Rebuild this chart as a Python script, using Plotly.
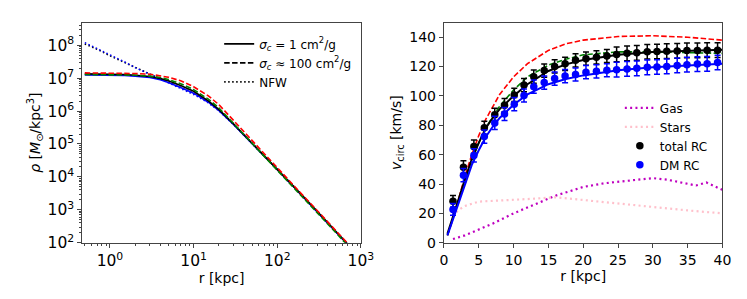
import plotly.graph_objects as go

# ---------------- left panel: density profiles ----------------
r_rho = [0.5, 0.7, 1, 1.5, 2, 3, 4, 5, 7, 10, 15, 20, 30, 50, 70, 100, 150, 200, 300, 500, 700]
rho_black = [1.35e7, 1.35e7, 1.32e7, 1.29e7, 1.23e7, 1.12e7, 9.8e6, 8.3e6, 6.0e6, 4.0e6, 2.04e6,
             1.12e6, 4.07e5, 1.07e5, 4.43e4, 1.72e4, 5.8e3, 2.7e3, 900, 224, 89]
rho_blue = [1.26e7, 1.26e7, 1.24e7, 1.2e7, 1.15e7, 1.05e7, 8.9e6, 7.4e6, 5.2e6, 3.5e6, 1.86e6,
            1.05e6, 3.9e5, 1.05e5, 4.3e4, 1.68e4, 5.7e3, 2.63e3, 880, 219, 87]
rho_red = [1.45e7, 1.45e7, 1.43e7, 1.41e7, 1.38e7, 1.32e7, 1.2e7, 1.07e7, 8.3e6, 5.5e6, 2.9e6,
           1.58e6, 5.2e5, 1.26e5, 5.0e4, 1.86e4, 6.2e3, 2.85e3, 955, 237, 94]
rho_green = [1.29e7, 1.29e7, 1.27e7, 1.26e7, 1.23e7, 1.15e7, 1.05e7, 9.1e6, 6.8e6, 4.5e6, 2.3e6,
             1.26e6, 4.2e5, 9.8e4, 4.0e4, 1.55e4, 5.3e3, 2.45e3, 822, 204, 81]
rho_nfw_blue = [1.2e8, 8.1e7, 5.1e7, 3.1e7, 2.1e7, 1.32e7, 9.3e6, 7.2e6, 4.9e6, 3.2e6, 1.78e6,
                1.02e6, 3.9e5, 1.05e5, 4.3e4, 1.68e4, 5.7e3, 2.63e3, 880, 219, 87]
rho_nfw_black = [1.1e8, 7.6e7, 4.8e7, 2.95e7, 2.1e7, 1.32e7, 9.5e6, 7.6e6, 5.2e6, 3.5e6, 1.95e6,
                 1.1e6, 4.07e5, 1.07e5, 4.43e4, 1.72e4, 5.8e3, 2.7e3, 900, 224, 89]

# ---------------- right panel: rotation curves ----------------
r_data = [1.3, 2.8, 4.3, 5.8, 7.3, 8.7, 10.1, 11.5, 12.9, 14.4, 15.9, 17.4, 18.9, 20.4, 21.9,
          23.4, 24.8, 26.3, 27.7, 29.2, 30.6, 32.0, 33.5, 34.9, 36.4, 37.8, 39.3]
v_total = [28.2, 51.4, 65.5, 78.3, 87.1, 93.7, 100.7, 107.4, 113.1, 117.3, 120.1, 121.9, 124.3,
           125.4, 126.3, 127.2, 128.3, 129.0, 129.4, 130.1, 130.3, 130.5, 130.7, 131.0, 131.0, 131.2, 131.2]
err_total = [4, 4.5, 4.5, 4.5, 4.5, 4.5, 4.5, 4.5, 4.5, 4.5, 4.5, 4.5, 4.5, 4.5, 4.5,
             4.5, 5, 5, 5, 5, 5, 5, 5, 5, 5, 5, 5]
v_dm = [22.7, 46.0, 59.5, 72.3, 81.6, 87.7, 94.4, 100.3, 106.3, 109.1, 111.8, 113.5, 114.6,
        116.2, 116.8, 117.5, 117.9, 118.4, 118.8, 119.5, 119.7, 120.1, 120.8, 121.3, 121.7, 121.9, 122.8]
err_dm = [4, 4.5, 4.5, 4.5, 4.5, 4.5, 4.5, 4.5, 4.5, 4.5, 4.5, 4.5, 4.5, 4.5, 4.5,
          4.5, 5, 5, 5, 5, 5, 5, 5, 5, 5, 5, 5]

r_fit = [0.5, 1, 2, 3, 4, 5, 6, 7, 8, 10, 12, 15, 17.5, 20, 25, 30, 35, 40]
v_fit_black = [6, 13, 28, 43, 57, 68, 78, 85, 91, 100, 108, 117, 121.5, 124.5, 128, 130, 131, 131.5]
v_fit_blue = [5, 12, 26, 40, 53, 63, 72, 79, 85, 94, 101, 108, 111.5, 114, 117.5, 119.5, 121, 122]
v_fit_red = [5, 12, 28, 45, 60, 73, 84, 93, 101, 113, 122, 131, 135.5, 138, 140.5, 141, 140, 138]
v_fit_green = [5, 12, 27, 42, 56, 68, 78, 86, 93, 104, 113, 121, 125, 128, 130, 130, 129.5, 129]

r_gas = [1.3, 3, 5, 7, 10, 13, 16, 20, 23, 26, 30, 32, 34, 36.2, 37.7, 40]
v_gas = [2.5, 5, 9, 13, 20, 26, 32, 38, 40.5, 42, 44, 43, 41, 39, 41, 36]
r_stars = [1.3, 2, 3, 5, 7, 10, 13, 16, 18, 20, 25, 30, 35, 40]
v_stars = [18, 22, 25, 28, 28.5, 29, 30, 31, 30, 29, 27, 24.5, 22, 20]

W, H = 747, 299
FONT = "DejaVu Sans"
SPINE = "#444444"

fig = go.Figure()

def add(x, y, color, dash, width=1.6, xa="x", ya="y", name=None, show=False, legend="legend"):
    fig.add_trace(go.Scatter(x=x, y=y, mode="lines", line=dict(color=color, dash=dash, width=width),
                             xaxis=xa, yaxis=ya, name=name, showlegend=show, legend=legend,
                             hoverinfo="skip"))

DASH = "5.5px,2.4px"
DOT = "1.5px,2.5px"

# left panel curves
add(r_rho, rho_nfw_black, "black", DOT)
add(r_rho, rho_nfw_blue, "blue", DOT)
add(r_rho, rho_blue, "blue", "solid")
add(r_rho, rho_black, "black", "solid")
add(r_rho, rho_green, "green", DASH)
add(r_rho, rho_red, "red", DASH)

# legend-only entries for left panel
add([None], [None], "black", "solid", name="<i>σ</i><sub><i>c</i></sub> = 1 cm<sup>2</sup>/g", show=True)
add([None], [None], "black", DASH, name="<i>σ</i><sub><i>c</i></sub> ≈ 100 cm<sup>2</sup>/g", show=True)
add([None], [None], "black", DOT, name="NFW", show=True)

# right panel
add(r_fit, v_fit_red, "red", DASH, xa="x2", ya="y2")
add(r_fit, v_fit_green, "green", DASH, xa="x2", ya="y2")
add(r_gas, v_gas, "#bf00bf", "2px,3.3px", width=2.2, xa="x2", ya="y2", name="Gas", show=True, legend="legend2")
add(r_stars, v_stars, "pink", "2px,3.3px", width=2.2, xa="x2", ya="y2", name="Stars", show=True, legend="legend2")
add(r_fit, v_fit_black, "black", "solid", width=2, xa="x2", ya="y2")
add(r_fit, v_fit_blue, "blue", "solid", width=2, xa="x2", ya="y2")

fig.add_trace(go.Scatter(x=r_data, y=v_total, mode="markers", name="total RC",
                         marker=dict(color="black", size=7.5),
                         error_y=dict(type="data", array=err_total, color="black", thickness=1.5, width=3),
                         xaxis="x2", yaxis="y2", legend="legend2"))
fig.add_trace(go.Scatter(x=r_data, y=v_dm, mode="markers", name="DM RC",
                         marker=dict(color="blue", size=7.5),
                         error_y=dict(type="data", array=err_dm, color="blue", thickness=1.5, width=3),
                         xaxis="x2", yaxis="y2", legend="legend2"))

axcommon = dict(showline=True, linecolor=SPINE, linewidth=1.2, mirror=True, ticks="outside",
                ticklen=4, tickcolor=SPINE, showgrid=False, zeroline=False,
                tickfont=dict(family=FONT, size=14, color="black"),
                title_font=dict(family=FONT, size=14, color="black"))

minor = dict(ticks="outside", ticklen=2, tickcolor=SPINE, dtick="D1", showgrid=False)
logfont = dict(family=FONT, size=15.5, color="black")

fig.update_layout(
    width=W, height=H, margin=dict(l=0, r=0, t=0, b=0),
    paper_bgcolor="white", plot_bgcolor="white",
    font=dict(family=FONT, color="black"),
    xaxis=dict(axcommon, type="log", domain=[72 / W, 357 / W], range=[-0.33, 3.0],
               tickvals=[1, 10, 100, 1000],
               ticktext=["10<sup>0</sup>", "10<sup>1</sup>", "10<sup>2</sup>", "10<sup>3</sup>"],
               tickfont=logfont,
               minor=minor, title=dict(text="r [kpc]", standoff=3), anchor="y"),
    yaxis=dict(axcommon, type="log", domain=[57 / H, 284 / H], range=[2, 8.69],
               tickvals=[1e2, 1e3, 1e4, 1e5, 1e6, 1e7, 1e8],
               ticktext=["10<sup>%d</sup>" % k for k in range(2, 9)],
               tickfont=logfont,
               minor=minor, title=dict(text="<i>ρ</i> [<i>M</i><sub>⊙</sub>/kpc<sup>3</sup>]", standoff=3),
               anchor="x"),
    xaxis2=dict(axcommon, domain=[442 / W, 727 / W], range=[0, 40], dtick=5,
                title=dict(text="r [kpc]", standoff=4), anchor="y2"),
    yaxis2=dict(axcommon, domain=[57 / H, 284 / H], range=[0, 150], tickvals=list(range(0, 141, 20)),
                title=dict(text="<i>v</i><sub>circ</sub> [km/s]", standoff=4), anchor="x2"),
    legend=dict(x=212 / W, y=1 - 22 / H, xanchor="left", yanchor="top", bgcolor="rgba(0,0,0,0)",
                font=dict(family=FONT, size=12, color="black"), tracegroupgap=0),
    legend2=dict(x=622 / W, y=1 - 88 / H, xanchor="left", yanchor="top", bgcolor="rgba(0,0,0,0)",
                 font=dict(family=FONT, size=12, color="black"), tracegroupgap=0),
)

fig.write_html("out.html")
